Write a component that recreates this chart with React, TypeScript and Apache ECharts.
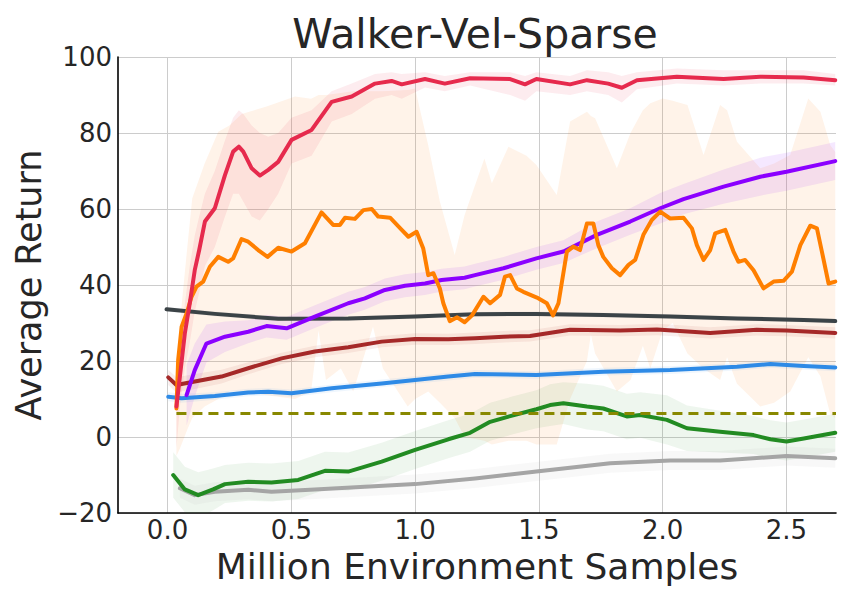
import React, { useEffect, useRef } from "react";
import * as echarts from "echarts";

const FONT = '"DejaVu Sans", "Liberation Sans", sans-serif';
const TEXT = "#262626";

const titleText = "Walker-Vel-Sparse";
const xAxisName = "Million Environment Samples";
const yAxisName = "Average Return";

// ---- red ----
const redX = [0.036, 0.05, 0.07, 0.09, 0.11, 0.128, 0.151, 0.191, 0.232, 0.265, 0.288, 0.306, 0.34, 0.373, 0.407, 0.447, 0.501, 0.582, 0.663, 0.744, 0.838, 0.905, 0.946, 1.04, 1.12, 1.222, 1.384, 1.444, 1.49, 1.626, 1.694, 1.78, 1.835, 1.896, 2.057, 2.246, 2.394, 2.569, 2.697];
const redY = [8.0, 15.9, 27.3, 35.2, 43.9, 49.2, 56.7, 60.2, 68.9, 75.1, 76.4, 75.1, 70.7, 68.8, 70.3, 72.4, 78.2, 80.8, 88.2, 89.6, 93.0, 93.7, 92.8, 94.2, 93.0, 94.4, 94.2, 92.8, 94.2, 92.8, 93.9, 93.0, 91.9, 93.9, 94.8, 94.2, 94.8, 94.6, 93.9];
const redLo = [-3, 8, 18, 25, 33, 38, 45, 50, 58, 64, 64, 62, 58, 57, 60, 64, 72, 74, 83, 85, 89, 90, 89, 92, 91, 92.5, 90, 88.5, 91, 90, 91, 90, 88, 91.5, 93, 92.5, 93, 93, 92.5];
const redHi = [10, 22, 35, 45, 53, 58, 64, 70, 78, 84, 86, 85, 82, 80, 79, 80, 84, 86, 91, 93, 95.5, 96, 95.5, 96, 95, 96, 96, 95, 96, 95, 96.5, 96, 95, 96, 97, 96.5, 96.5, 96.5, 95.5];

// ---- orange ----
const orangeX = [0.036, 0.043, 0.057, 0.077, 0.097, 0.117, 0.144, 0.171, 0.205, 0.245, 0.265, 0.299, 0.326, 0.366, 0.404, 0.447, 0.501, 0.555, 0.622, 0.669, 0.696, 0.717, 0.757, 0.791, 0.825, 0.851, 0.899, 0.946, 0.973, 1.006, 1.033, 1.053, 1.074, 1.1, 1.114, 1.14, 1.17, 1.2, 1.23, 1.276, 1.303, 1.343, 1.363, 1.384, 1.411, 1.437, 1.492, 1.532, 1.557, 1.579, 1.613, 1.639, 1.666, 1.694, 1.72, 1.74, 1.76, 1.795, 1.828, 1.862, 1.889, 1.922, 1.956, 1.99, 2.03, 2.084, 2.118, 2.138, 2.165, 2.192, 2.212, 2.253, 2.286, 2.306, 2.333, 2.367, 2.407, 2.448, 2.488, 2.522, 2.556, 2.596, 2.623, 2.643, 2.67, 2.697];
const orangeY = [7.5, 20.3, 29.0, 32.5, 36.9, 39.6, 40.9, 44.8, 47.4, 46.1, 47.0, 52.1, 51.4, 49.2, 47.4, 49.8, 48.8, 51.0, 59.1, 55.8, 55.8, 57.7, 57.4, 59.7, 60.0, 58.0, 57.7, 54.5, 52.7, 54.0, 49.6, 42.6, 43.1, 39.1, 35.2, 30.5, 31.5, 30.2, 32.0, 36.9, 35.2, 37.4, 42.2, 42.6, 39.1, 38.2, 36.7, 35.2, 32.0, 35.2, 48.8, 50.1, 49.2, 56.2, 56.2, 50.5, 47.4, 44.4, 42.6, 45.3, 46.6, 53.2, 57.1, 59.3, 57.5, 57.7, 54.9, 50.5, 46.6, 49.2, 53.6, 54.5, 48.8, 46.1, 46.6, 43.9, 39.1, 40.9, 41.1, 43.5, 50.5, 55.6, 54.9, 48.8, 40.4, 40.9];
const orangeBandX = [0.036, 0.05, 0.08, 0.1, 0.15, 0.205, 0.25, 0.3, 0.4, 0.515, 0.58, 0.61, 0.64, 0.7, 0.75, 0.83, 0.87, 0.97, 1.0, 1.053, 1.1, 1.16, 1.2, 1.28, 1.31, 1.377, 1.45, 1.49, 1.572, 1.626, 1.694, 1.71, 1.727, 1.815, 1.87, 1.92, 1.95, 2.0, 2.04, 2.1, 2.165, 2.232, 2.26, 2.3, 2.394, 2.45, 2.515, 2.588, 2.637, 2.677, 2.697];
const orangeBandLo = [-5, -3, 2, 5, 8, 10, 12, 12, 11, 10, 12, 28, 15, 18, 12, 29, 18, 8, 10, 12, 9, 5, 0, -1, -2, -1, -1, -2, -2, 10, 20, 27, 22, 12, 15, 24, 18, 28, 30, 22, 18, 15, 21, 14, 8, 9, 12, 21, 16, 6, 5];
const orangeBandHi = [10, 30, 50, 62.8, 72, 80.3, 82, 85, 87, 89.6, 89, 90, 90, 90.5, 91, 91, 91, 91.3, 91.7, 76.8, 62, 47.9, 58.4, 73.3, 66.8, 76.4, 74, 71.6, 63.7, 83.0, 85.6, 84.5, 83.9, 70.7, 80, 86, 87.8, 89.1, 88.5, 87.4, 74.2, 87.4, 86, 77.7, 70.7, 72, 74.2, 89.1, 85.6, 76.8, 75];

// ---- purple ----
const purpleX = [0.077, 0.11, 0.157, 0.232, 0.326, 0.4, 0.481, 0.595, 0.73, 0.797, 0.878, 0.959, 1.04, 1.107, 1.2, 1.242, 1.357, 1.49, 1.599, 1.734, 1.869, 1.99, 2.084, 2.246, 2.394, 2.5, 2.697];
const purpleY = [11.0, 17.6, 24.6, 26.4, 27.7, 29.2, 28.6, 31.7, 35.2, 36.5, 38.7, 39.8, 40.4, 41.3, 41.9, 42.6, 44.4, 47.0, 48.8, 53.2, 56.7, 60.2, 62.6, 65.9, 68.5, 69.8, 72.6];
const purpleSpread = [8, 7, 5, 4, 3, 3, 3, 3, 3, 3, 3, 3, 3, 3, 3, 3, 3, 3, 3, 3.5, 3.5, 4, 4, 4.5, 5, 5, 5];

// ---- dark gray ----
const darkX = [-0.004, 0.191, 0.447, 0.73, 1.0, 1.242, 1.49, 1.76, 2.03, 2.3, 2.57, 2.697];
const darkY = [33.6, 32.4, 31.1, 31.2, 31.7, 32.3, 32.4, 32.1, 31.7, 31.2, 30.8, 30.5];
const darkSpread = [0.6, 0.6, 0.6, 0.6, 0.6, 0.6, 0.6, 0.6, 0.6, 0.6, 0.6, 0.6];

// ---- brown ----
const brownX = [0.003, 0.036, 0.11, 0.218, 0.326, 0.461, 0.595, 0.73, 0.865, 1.0, 1.134, 1.242, 1.357, 1.464, 1.626, 1.828, 1.977, 2.192, 2.38, 2.5, 2.697];
const brownY = [15.7, 13.7, 14.6, 15.9, 18.1, 20.7, 22.5, 23.6, 25.1, 25.8, 25.7, 26.0, 26.4, 26.6, 28.2, 28.0, 28.3, 27.4, 28.2, 28.0, 27.4];
const brownSpread = [2, 2, 2, 1.8, 1.6, 1.5, 1.5, 1.5, 1.5, 1.5, 1.5, 1.5, 1.5, 1.5, 1.5, 1.5, 1.5, 1.5, 1.5, 1.5, 1.5];

// ---- blue ----
const blueX = [0.003, 0.057, 0.191, 0.326, 0.407, 0.501, 0.663, 0.865, 1.0, 1.134, 1.242, 1.49, 1.76, 2.03, 2.3, 2.435, 2.57, 2.697];
const blueY = [10.6, 10.2, 10.8, 11.7, 11.9, 11.5, 12.8, 14.1, 15.0, 15.9, 16.6, 16.3, 17.2, 17.6, 18.5, 19.2, 18.7, 18.3];
const blueSpread = [1.2, 1.2, 1, 1, 1, 1, 1, 1, 1, 1, 1, 1, 1, 1, 1, 1, 1, 1];

// ---- green ----
const greenX = [0.023, 0.07, 0.124, 0.184, 0.232, 0.326, 0.42, 0.528, 0.636, 0.73, 0.865, 1.0, 1.134, 1.222, 1.303, 1.384, 1.49, 1.545, 1.599, 1.694, 1.76, 1.855, 1.909, 2.017, 2.098, 2.232, 2.367, 2.435, 2.5, 2.57, 2.697];
const greenY = [-10.0, -13.8, -15.3, -13.8, -12.4, -11.8, -12.0, -11.3, -8.9, -9.1, -6.5, -3.4, -0.6, 1.1, 4.0, 5.5, 7.3, 8.4, 8.9, 8.0, 7.5, 5.4, 5.8, 4.5, 2.3, 1.4, 0.5, -0.6, -1.2, -0.4, 1.1];
const greenSpread = [6, 6, 6, 5.5, 5, 5, 5, 5, 5, 5, 5, 5, 5, 5, 5, 5, 5, 5.5, 5.5, 6, 6, 6, 6, 6.5, 6, 5.5, 5, 5, 5, 5, 5];

// ---- gray ----
const grayX = [0.05, 0.11, 0.191, 0.326, 0.42, 0.595, 0.797, 1.0, 1.242, 1.49, 1.788, 2.03, 2.232, 2.5, 2.697];
const grayY = [-13.5, -15.3, -14.4, -13.9, -14.4, -13.8, -13.1, -12.4, -10.9, -9.1, -6.9, -6.2, -6.2, -5.0, -5.6];
const graySpread = [2.5, 2.5, 2.5, 2.5, 2.5, 2.5, 2.5, 2.5, 2.5, 2.5, 2.5, 2.5, 2.5, 2.5, 2.5];

// ---- olive dashed baseline ----
const oliveX = [0.036, 2.7];
const oliveY = [6.2, 6.2];

const C = {
  red: "#e62a4d",
  orange: "#ff7f00",
  purple: "#8b00ff",
  dark: "#3b4347",
  brown: "#a52828",
  blue: "#2e8ae6",
  green: "#228b22",
  gray: "#a5a5a5",
  olive: "#888800",
};

function pairs(xs: number[], ys: number[]) {
  return xs.map((x, i) => [x, ys[i]]);
}

function bandSeries(xs: number[], lo: number[], hi: number[], fill: string) {
  const data = xs.map((x, i) => [x, lo[i], hi[i]]);
  return {
    type: "custom",
    silent: true,
    clip: true,
    z: 1,
    data,
    encode: { x: 0, y: [1, 2] },
    renderItem: (params: any, api: any) => {
      if (params.dataIndex !== 0) return null;
      const top = data.map((d) => api.coord([d[0], d[2]]));
      const bot = data
        .slice()
        .reverse()
        .map((d) => api.coord([d[0], d[1]]));
      return {
        type: "polygon",
        shape: { points: top.concat(bot) },
        style: { fill, stroke: null },
      };
    },
  };
}

function spreadBand(xs: number[], ys: number[], sp: number[], fill: string) {
  return bandSeries(
    xs,
    ys.map((y, i) => y - sp[i]),
    ys.map((y, i) => y + sp[i]),
    fill
  );
}

function lineSeries(xs: number[], ys: number[], color: string, extra: any = {}) {
  return {
    type: "line",
    data: pairs(xs, ys),
    showSymbol: false,
    symbol: "none",
    silent: true,
    clip: true,
    z: 3,
    lineStyle: { color, width: 4, cap: "round", join: "round", ...extra },
    itemStyle: { color },
  };
}

export default function App() {
  const ref = useRef<HTMLDivElement>(null);
  useEffect(() => {
    if (!ref.current) return;
    const chart = echarts.init(ref.current, undefined, { renderer: "svg" });
    const option: any = {
      animation: false,
      backgroundColor: "#ffffff",
      grid: { left: 118, right: 14, top: 57, bottom: 87 },
      graphic: [
        {
          type: "text",
          x: 475,
          y: 34,
          style: {
            text: titleText,
            font: `41px ${FONT}`,
            fill: TEXT,
            align: "center",
            verticalAlign: "middle",
          },
        },
      ],
      xAxis: {
        type: "value",
        min: -0.2,
        max: 2.7,
        name: xAxisName,
        nameLocation: "middle",
        nameGap: 35,
        nameTextStyle: { fontSize: 36, color: TEXT, fontFamily: FONT },
        axisLine: { show: true, onZero: false, lineStyle: { color: "#000000", width: 1.6 } },
        axisTick: { show: false },
        axisLabel: {
          fontSize: 26,
          color: TEXT,
          fontFamily: FONT,
          margin: 4,
          showMinLabel: false,
          showMaxLabel: false,
          formatter: (v: number) => v.toFixed(1),
        },
        splitLine: {
          show: true,
          showMinLine: false,
          showMaxLine: false,
          lineStyle: { color: "#cccccc", width: 1 },
        },
      },
      yAxis: {
        type: "value",
        min: -20,
        max: 100,
        interval: 20,
        name: yAxisName,
        nameLocation: "middle",
        nameGap: 72,
        nameTextStyle: { fontSize: 35, color: TEXT, fontFamily: FONT },
        axisLine: { show: true, onZero: false, lineStyle: { color: "#000000", width: 1.6 } },
        axisTick: { show: false },
        axisLabel: {
          fontSize: 26,
          color: TEXT,
          fontFamily: FONT,
          margin: 6,
          formatter: (v: number) => (v < 0 ? "\u2212" + Math.abs(v) : String(v)),
        },
        splitLine: { show: true, lineStyle: { color: "#cccccc", width: 1 } },
      },
      series: [
        bandSeries(orangeBandX, orangeBandLo, orangeBandHi, "rgba(255,127,14,0.09)"),
        bandSeries(redX, redLo, redHi, "rgba(230,42,77,0.09)"),
        spreadBand(purpleX, purpleY, purpleSpread, "rgba(139,0,255,0.09)"),
        spreadBand(darkX, darkY, darkSpread, "rgba(59,67,71,0.08)"),
        spreadBand(brownX, brownY, brownSpread, "rgba(165,40,40,0.08)"),
        spreadBand(blueX, blueY, blueSpread, "rgba(46,138,230,0.08)"),
        spreadBand(greenX, greenY, greenSpread, "rgba(34,139,34,0.08)"),
        spreadBand(grayX, grayY, graySpread, "rgba(165,165,165,0.08)"),
        lineSeries(grayX, grayY, C.gray),
        lineSeries(greenX, greenY, C.green),
        lineSeries(oliveX, oliveY, C.olive, { width: 3, type: [10, 6], cap: "butt" }),
        lineSeries(blueX, blueY, C.blue),
        lineSeries(brownX, brownY, C.brown),
        lineSeries(darkX, darkY, C.dark),
        lineSeries(purpleX, purpleY, C.purple),
        lineSeries(orangeX, orangeY, C.orange),
        lineSeries(redX, redY, C.red),
      ],
    };
    chart.setOption(option);
    return () => chart.dispose();
  }, []);
  return (
    <div
      ref={ref}
      style={{ position: "absolute", left: 0, top: 0, width: 850, height: 600, background: "#fff" }}
    />
  );
}
